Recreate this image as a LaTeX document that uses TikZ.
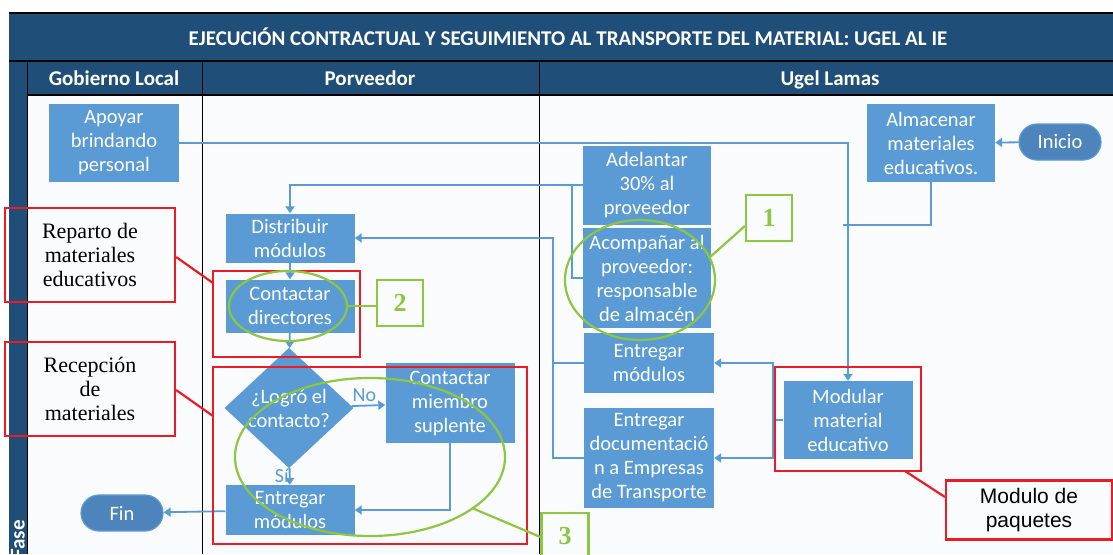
\documentclass[tikz,border=0pt]{standalone}
\usepackage{fontspec}
\setmainfont{Carlito}
\newfontfamily\notefont{Liberation Serif}
\newfontfamily\tagfont{Liberation Sans}
\usetikzlibrary{arrows.meta,shapes.geometric,positioning}
\definecolor{boxblue}{RGB}{91,155,213}
\definecolor{termblue}{RGB}{78,132,188}
\definecolor{lanedark}{RGB}{31,78,121}
\definecolor{notered}{RGB}{237,28,36}
\definecolor{notegreen}{RGB}{141,198,63}
\definecolor{lanebg}{RGB}{250,251,252}
\begin{document}
\begin{tikzpicture}[x=1pt, y=-1pt,
  proc/.style={fill=boxblue, text=white, align=center, inner sep=0pt, minimum width=129pt,
    font=\fontsize{20.5}{24}\selectfont},
  term/.style={fill=termblue, draw=boxblue, line width=1.2pt, text=white, rounded corners=18pt,
    minimum width=82pt, minimum height=36pt, inner sep=0pt, font=\fontsize{20.5}{24}\selectfont},
  decision/.style={diamond, fill=boxblue, text=white, align=center, inner sep=0pt,
    minimum width=129pt, minimum height=117pt, font=\fontsize{20.5}{24}\selectfont},
  flow/.style={draw=boxblue, line width=1.8pt, -{Triangle[width=9pt,length=7pt]}},
  link/.style={draw=boxblue, line width=1.8pt},
  redbox/.style={draw=notered, line width=2.2pt},
  greenbox/.style={draw=notegreen, line width=2.2pt},
  head/.style={text=white, font=\fontsize{21}{24}\bfseries\selectfont}]
  \useasboundingbox (0,0) rectangle (1113,554);
  % lanes
  \fill[lanebg] (27,95) rectangle (1113,554);
  \fill[lanedark] (9,13) rectangle (1113,95);
  \fill[lanedark] (9,61) rectangle (27,554);
  \draw[black, line width=1.5pt] (9,13) -- (1113,13);
  \draw[black, line width=1.2pt] (9,61) -- (1113,61);
  \draw[black, line width=1.2pt] (27,95) -- (1113,95);
  \draw[black, line width=0.8pt] (27,61) -- (27,554);
  \draw[black, line width=0.8pt] (202,61) -- (202,554);
  \draw[black, line width=0.8pt] (539,61) -- (539,554);
  \node[head, anchor=base] (titulo) at (568,45) {EJECUCIÓN CONTRACTUAL Y SEGUIMIENTO AL TRANSPORTE DEL MATERIAL: UGEL AL IE};
  \node[head, anchor=base] (gobierno) at (114,85) {Gobierno Local};
  \node[head, anchor=base] (porveedor) at (370,85) {Porveedor};
  \node[head, anchor=base] (ugel) at (830,85) {Ugel Lamas};
  \node[head, rotate=90, anchor=west, inner sep=0pt] (fase) at (18,559) {Fase};
  % nodes
  \node[proc, minimum width=130pt, minimum height=78pt] (apoyar) at (114,143) {Apoyar\\brindando\\personal};
  \node[proc, minimum width=128pt, minimum height=78pt] (almacenar) at (931,143) {Almacenar\\materiales\\educativos.};
  \node[term] (inicio) at (1060,142) {Inicio};
  \node[proc, minimum width=128pt, minimum height=79pt] (adelantar) at (647,185) {Adelantar\\30\% al\\proveedor};
  \node[proc, minimum width=128pt, minimum height=100pt] (acompanar) at (647,278) {Acompañar al\\proveedor:\\responsable\\de almacén};
  \node[proc, minimum width=130pt, minimum height=60pt] (entregarU) at (649,363) {Entregar\\módulos};
  \node[proc, minimum width=130pt, minimum height=100pt] (documentos) at (649,458) {Entregar\\documentació\\n a Empresas\\de Transporte};
  \node[proc, minimum width=129pt, minimum height=78pt] (modular) at (848,420) {Modular\\material\\educativo};
  \node[proc, minimum height=49pt] (distribuir) at (290,238) {Distribuir\\módulos};
  \node[proc, minimum height=53pt] (contactar) at (290,306) {Contactar\\directores};
  \node[decision] (logro) at (289,408) {¿Logró el\\contacto?};
  \node[proc, minimum height=80pt] (miembro) at (450,403) {Contactar\\miembro\\suplente};
  \node[proc, minimum height=50pt] (entregarP) at (290,510) {Entregar\\módulos};
  \node[term] (fin) at (122,513) {Fin};
  % connectors
  \coordinate (busA) at (843,225);
  \coordinate (busB) at (572,185);
  \coordinate (busC) at (553,363);
  \coordinate (busD) at (773,420);
  \draw[flow] (inicio) -- (almacenar);
  \draw[flow] (apoyar) -| (modular);
  \draw[link] (almacenar) |- (busA);
  \draw[flow] (adelantar) -| (distribuir);
  \draw[link] (acompanar) -| (busB);
  \draw[flow] (entregarU) -- (busC) |- (distribuir);
  \draw[link] (documentos) -| (busC);
  \draw[flow] (modular) -- (busD) |- (entregarU);
  \draw[flow] (busD) |- (documentos);
  \draw[flow] (distribuir) -- (contactar);
  \draw[flow] (contactar) -- (logro);
  \draw[flow] (logro) -- node[above, text=boxblue, font=\fontsize{20}{22}\selectfont, pos=0.38] (no) {No} (miembro);
  \draw[flow] (logro) -- node[left, text=boxblue, font=\fontsize{20}{22}\selectfont, pos=0.45, inner sep=0pt] (si) {Sí} (entregarP);
  \draw[flow] (miembro) |- (entregarP);
  \draw[flow] (entregarP) -- (fin);
  % notes
  \node[redbox, minimum width=170pt, minimum height=94pt, align=center, font=\notefont\fontsize{22}{24}\selectfont] (reparto) at (90,255) {Reparto de\\materiales\\educativos};
  \node[redbox, minimum width=170pt, minimum height=94pt, align=center, font=\notefont\fontsize{22}{24}\selectfont] (recepcion) at (90,389) {Recepción\\de\\materiales};
  \node[redbox, minimum width=166pt, minimum height=59pt, align=center, font=\tagfont\fontsize{21}{24}\selectfont] (paquetes) at (1029,510) {Modulo de\\paquetes};
  \draw[redbox] (213,271) rectangle (360,357);
  \draw[redbox] (213,367) rectangle (527,544);
  \draw[redbox] (775,367) rectangle (921,471);
  \draw[redbox] (reparto.east |- 0,257) -- (213,283);
  \draw[redbox] (recepcion.east |- 0,390) -- (213,416);
  \draw[redbox] (905,471) -- (paquetes.west |- 0,497);
  \draw[greenbox] (640,280) ellipse (75 and 60);
  \draw[greenbox] (288,306) ellipse (59 and 35);
  \draw[greenbox] (370,457) ellipse (135 and 79);
  \node[greenbox, minimum size=46pt, text=notegreen, font=\notefont\bfseries\fontsize{26}{26}\selectfont] (uno) at (769,218) {1};
  \node[greenbox, minimum size=46pt, text=notegreen, font=\notefont\bfseries\fontsize{26}{26}\selectfont] (dos) at (400,303) {2};
  \node[greenbox, minimum width=47pt, minimum height=46pt, text=notegreen, font=\notefont\bfseries\fontsize{26}{26}\selectfont] (tres) at (565,536) {3};
  \draw[greenbox] (uno.west |- 0,226) -- (709,258);
  \draw[greenbox] (347,306) -- (dos.west |- 0,306);
  \draw[greenbox] (472,508) -- (tres.west |- 0,537);
\end{tikzpicture}
\end{document}
